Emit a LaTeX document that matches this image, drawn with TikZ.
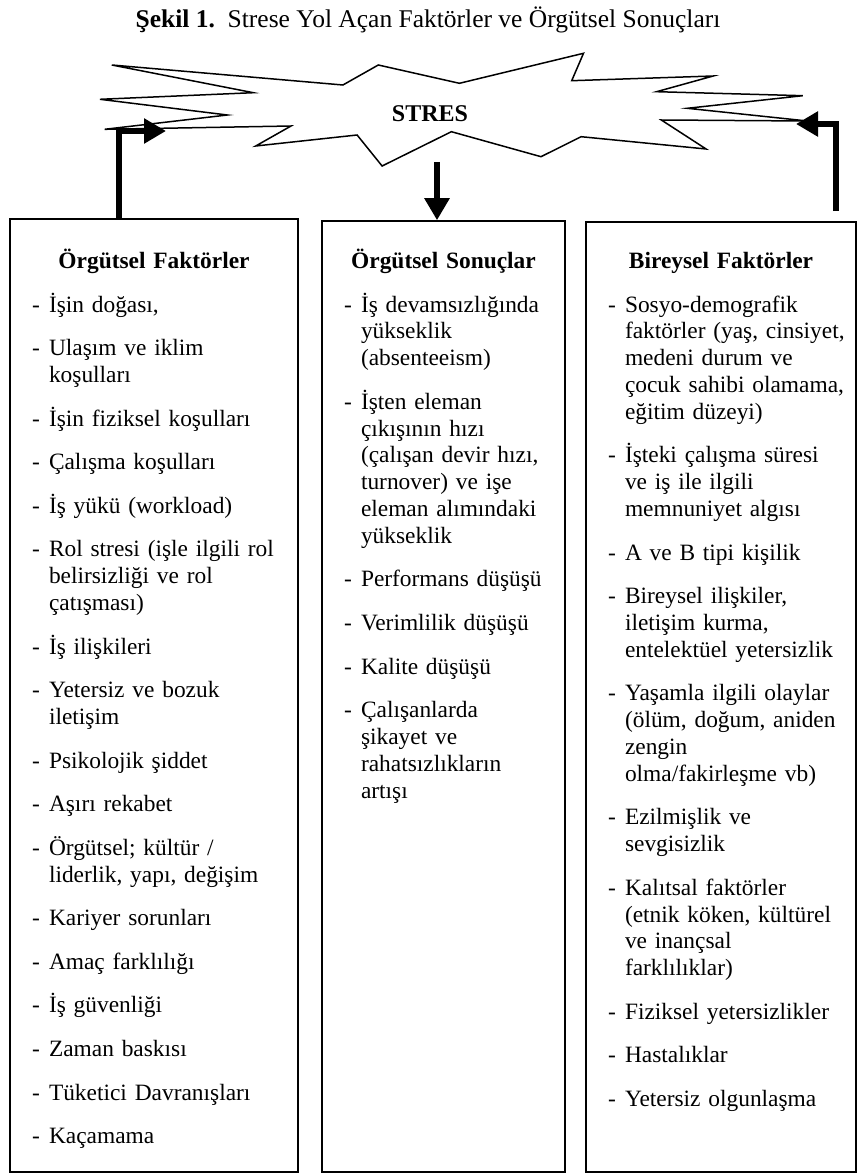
\documentclass[tikz,border=0pt]{standalone}
\usepackage{fontspec}
\setmainfont{Liberation Serif}
\usepackage{enumitem}
\usetikzlibrary{arrows.meta}

\hyphenpenalty=10000
\exhyphenpenalty=10000

\newlist{maddeler}{itemize}{1}
\setlist[maddeler]{label=-, leftmargin=39pt, labelwidth=17pt, labelsep=0pt, align=left,
  topsep=17.2pt, partopsep=0pt, itemsep=16.8pt, parsep=0pt}

\begin{document}
\begin{tikzpicture}[x=1pt, y=-1pt,
    kutu/.style={draw, line width=1.5pt, inner sep=0pt},
    yazi/.style={anchor=base, inner sep=0pt, font=\fontsize{23.4}{26.8}\selectfont},
    kalinok/.style={line width=6pt, -{Triangle[width=24pt,length=22pt]}}]
				\useasboundingbox (0,0) rectangle (858,1174);

				\node [yazi, font=\fontsize{25.5}{29}\selectfont] (baslik) at (428, 28) {\textbf{Şekil 1.}\ \ Strese Yol Açan Faktörler ve Örgütsel Sonuçları};

				% stres yildizi
				\draw [line width=1.5pt] (111.8,65) -- (342.9,85) -- (378.3,65) -- (459.4,83.3) -- (583.5,53.3)
					-- (571.7,80.7) -- (713.2,76) -- (656.6,91.7) -- (802.8,95.7) -- (687.3,108.3)
					-- (807.5,121) -- (661.3,120) -- (706.1,149) -- (581.1,136.7) -- (541,156.7)
					-- (451.4,131.7) -- (382.1,166) -- (357.1,135) -- (255.7,146) -- (291,126)
					-- (104.7,129.3) -- (227.4,115) -- (100,99.3) -- (253.3,92.7) -- cycle;
				\node [anchor=base, font=\fontsize{24}{28}\selectfont\bfseries] (stres) at (430, 122) {STRES};

				\node [kutu, minimum width=288pt, minimum height=953pt] (orgkutu) at (154, 695.5) {};
				\node [yazi, text width=288pt] (orgyazi) at (154, 268) {\centering\textbf{Örgütsel Faktörler}\par\raggedright
					\begin{maddeler}
						\item İşin doğası,
						\item Ulaşım ve iklim\\ koşulları
						\item İşin fiziksel koşulları
						\item Çalışma koşulları
						\item İş yükü (workload)
						\item Rol stresi (işle ilgili rol\\ belirsizliği ve rol\\ çatışması)
						\item İş ilişkileri
						\item Yetersiz ve bozuk\\ iletişim
						\item Psikolojik şiddet
						\item Aşırı rekabet
						\item Örgütsel; kültür /\\ liderlik, yapı, değişim
						\item Kariyer sorunları
						\item Amaç farklılığı
						\item İş güvenliği
						\item Zaman baskısı
						\item Tüketici Davranışları
						\item Kaçamama
					\end{maddeler}};

				\node [kutu, minimum width=243pt, minimum height=951pt] (sonkutu) at (443.5, 696.5) {};
				\node [yazi, text width=243pt] (sonyazi) at (443.5, 268) {\centering\textbf{Örgütsel Sonuçlar}\par\raggedright
					\begin{maddeler}
						\item İş devamsızlığında\\ yükseklik\\ (absenteeism)
						\item İşten eleman\\ çıkışının hızı\\ (çalışan devir hızı,\\ turnover) ve işe\\ eleman alımındaki\\ yükseklik
						\item Performans düşüşü
						\item Verimlilik düşüşü
						\item Kalite düşüşü
						\item Çalışanlarda\\ şikayet ve\\ rahatsızlıkların\\ artışı
					\end{maddeler}};

				\node [kutu, minimum width=270pt, minimum height=950pt] (birkutu) at (721, 697) {};
				\node [yazi, text width=270pt] (biryazi) at (721, 268) {\centering\textbf{Bireysel Faktörler}\par\raggedright
					\begin{maddeler}
						\item Sosyo-demografik\\ faktörler (yaş, cinsiyet,\\ medeni durum ve\\ çocuk sahibi olamama,\\ eğitim düzeyi)
						\item İşteki çalışma süresi\\ ve iş ile ilgili\\ memnuniyet algısı
						\item A ve B tipi kişilik
						\item Bireysel ilişkiler,\\ iletişim kurma,\\ entelektüel yetersizlik
						\item Yaşamla ilgili olaylar\\ (ölüm, doğum, aniden\\ zengin\\ olma/fakirleşme vb)
						\item Ezilmişlik ve\\ sevgisizlik
						\item Kalıtsal faktörler\\ (etnik köken, kültürel\\ ve inançsal\\ farklılıklar)
						\item Fiziksel yetersizlikler
						\item Hastalıklar
						\item Yetersiz olgunlaşma
					\end{maddeler}};

				% oklar
				\coordinate (solok) at (166, 131);
				\coordinate (sagok) at (796, 124);
				\coordinate (asagi) at (437, 162);
				\draw [kalinok] ([xshift=-35pt]orgkutu.north) |- (solok);
				\draw [kalinok] ([xshift=115pt, yshift=10pt]birkutu.north) |- (sagok);
				\draw [kalinok] (asagi) -- (asagi |- sonkutu.north);
\end{tikzpicture}
\end{document}
